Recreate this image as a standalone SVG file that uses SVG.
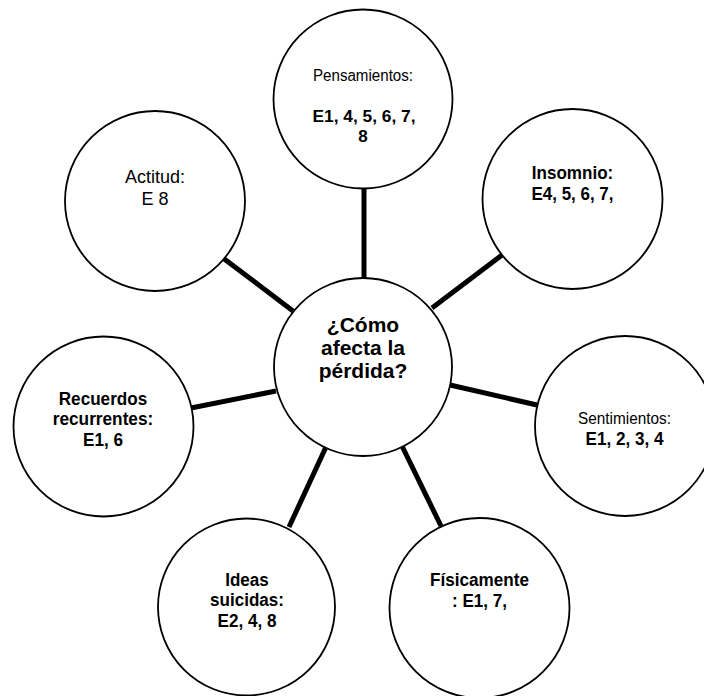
<svg xmlns="http://www.w3.org/2000/svg" width="704" height="696" viewBox="0 0 704 696">
<style>
.c{fill:#fff;stroke:#000;stroke-width:1.8}
.l{stroke:#000;stroke-width:5;fill:none}
text{font-family:"Liberation Sans",Arial,sans-serif;text-anchor:middle;fill:#000}
.b{font-weight:bold;font-size:18px}
.b17{font-weight:bold;font-size:17px}
.r{font-size:16px}
.r18{font-size:18px}
.m{font-weight:bold;font-size:21px}
</style>
<rect width="704" height="696" fill="#fff"/>
<g id="connectors">
<line class="l" x1="364" y1="187" x2="364" y2="278"/>
<line class="l" x1="502" y1="255" x2="432" y2="308"/>
<line class="l" x1="223" y1="258" x2="293" y2="311"/>
<line class="l" x1="191" y1="408" x2="276" y2="391"/>
<line class="l" x1="450" y1="385" x2="537" y2="405"/>
<line class="l" x1="326" y1="447" x2="289" y2="527"/>
<line class="l" x1="402" y1="446" x2="441" y2="526"/>
</g>
<g id="center">
<circle class="c" cx="363" cy="367" r="89"/>
<text class="m" x="363" y="332">¿Cómo</text>
<text class="m" x="363" y="355">afecta la</text>
<text class="m" x="363" y="378">pérdida?</text>
</g>
<g id="pensamientos">
<circle class="c" cx="363" cy="99" r="89.5"/>
<text class="r" x="363" y="81" textLength="100" lengthAdjust="spacingAndGlyphs">Pensamientos:</text>
<text class="b17" x="364" y="122" textLength="103" lengthAdjust="spacingAndGlyphs">E1, 4, 5, 6, 7,</text>
<text class="b17" x="363" y="142">8</text>
</g>
<g id="insomnio">
<circle class="c" cx="572.5" cy="199" r="90"/>
<text class="b" x="572.5" y="179" textLength="81.5" lengthAdjust="spacingAndGlyphs">Insomnio:</text>
<text class="b" x="572.5" y="200" textLength="82" lengthAdjust="spacingAndGlyphs">E4, 5, 6, 7,</text>
</g>
<g id="actitud">
<circle class="c" cx="155" cy="201" r="90"/>
<text class="r18" x="155" y="183">Actitud:</text>
<text class="r18" x="155" y="205">E 8</text>
</g>
<g id="recuerdos">
<circle class="c" cx="103.5" cy="426.5" r="90"/>
<text class="b" x="103" y="405" textLength="88.5" lengthAdjust="spacingAndGlyphs">Recuerdos</text>
<text class="b" x="103" y="425" textLength="100.5" lengthAdjust="spacingAndGlyphs">recurrentes:</text>
<text class="b" x="103" y="446" textLength="40" lengthAdjust="spacingAndGlyphs">E1, 6</text>
</g>
<g id="sentimientos">
<circle class="c" cx="625" cy="426" r="90"/>
<text class="r" x="624.5" y="424" textLength="93" lengthAdjust="spacingAndGlyphs">Sentimientos:</text>
<text class="b" x="624.5" y="445" textLength="78" lengthAdjust="spacingAndGlyphs">E1, 2, 3, 4</text>
</g>
<g id="ideas">
<circle class="c" cx="246.5" cy="607" r="88.5"/>
<text class="b" x="247" y="586" textLength="43.5" lengthAdjust="spacingAndGlyphs">Ideas</text>
<text class="b" x="247" y="606" textLength="74" lengthAdjust="spacingAndGlyphs">suicidas:</text>
<text class="b" x="247" y="627" textLength="59" lengthAdjust="spacingAndGlyphs">E2, 4, 8</text>
</g>
<g id="fisicamente">
<circle class="c" cx="479.5" cy="608" r="90"/>
<text class="b" x="479.5" y="586" textLength="99" lengthAdjust="spacingAndGlyphs">Físicamente</text>
<text class="b" x="479.5" y="607" textLength="55" lengthAdjust="spacingAndGlyphs">: E1, 7,</text>
</g>
</svg>
